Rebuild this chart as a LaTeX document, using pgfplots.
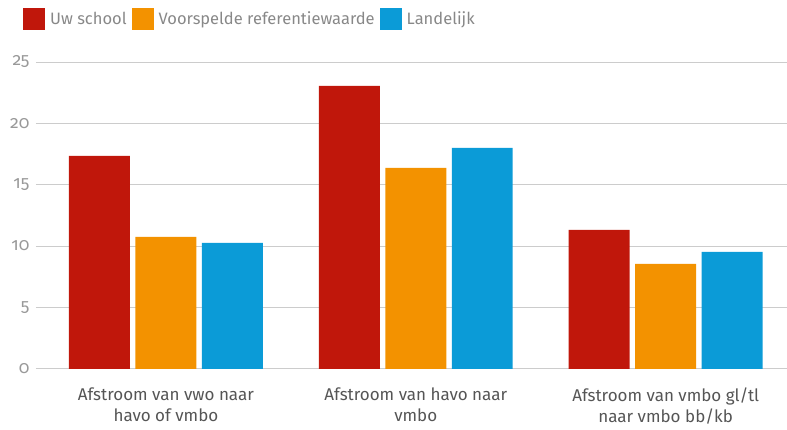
\documentclass[border=0pt]{standalone}
\usepackage{fontspec}
\setmainfont{Fira Sans}[Numbers=OldStyle]
\usepackage{pgfplots}
\pgfplotsset{compat=1.18}
\definecolor{cred}{HTML}{C0170B}
\definecolor{corange}{HTML}{F39200}
\definecolor{cblue}{HTML}{0B9BD7}
\definecolor{gridc}{HTML}{CCCCCC}
\definecolor{ticktxt}{HTML}{999999}
\definecolor{labtxt}{HTML}{555555}
\definecolor{legtxt}{HTML}{888888}
\begin{document}
\begin{tikzpicture}[x=1pt,y=1pt]
\begin{axis}[
  name=ax, at={(0,0)}, anchor=south west,
  scale only axis, width=751pt, height=307pt,
  xmin=-0.52, xmax=2.484, ymin=0, ymax=25,
  axis line style={draw=none},
  ytick={0,5,...,25},
  ymajorgrids, xmajorgrids=false, grid style={draw=gridc, line width=0.8pt},
  major tick length=0pt,
  yticklabel style={font=\fontsize{17.5}{17.5}\selectfont, text=ticktxt, xshift=-3pt},
  /pgf/number format/assume math mode=true,
  xtick={0,1,2},
  xticklabels={{Afstroom van vwo naar\\havo of vmbo},{Afstroom van havo naar\\vmbo},{Afstroom van vmbo gl/tl\\naar vmbo bb/kb}},
  xticklabel style={font=\fontsize{17}{21}\selectfont, text=labtxt, align=center, yshift=-15pt},
  ybar, bar width=61pt,
  legend columns=3,
  legend style={at={(axis description cs:0,1)}, anchor=north west, xshift=-16pt, yshift=56pt, draw=none, fill=none,
    font=\fontsize{16.5}{19}\selectfont, text=legtxt,
    /tikz/every odd column/.append style={column sep=3pt},
    /tikz/every even column/.append style={column sep=3pt}},
  legend image code/.code={\fill[#1] (0pt,-11pt) rectangle (22pt,11pt);},
  legend cell align=left,
]
\addplot[fill=cred, draw=none, bar shift=-66.5pt] coordinates {(0,17.35) (1,23.05) (2,11.32)};
\addplot[fill=corange, draw=none, bar shift=0pt] coordinates {(0,10.75) (1,16.37) (2,8.55)};
\addplot[fill=cblue, draw=none, bar shift=66.5pt] coordinates {(0,10.26) (1,18.0) (2,9.53)};
\legend{Uw school, Voorspelde referentiewaarde, Landelijk}
\end{axis}
\path[use as bounding box] (-36,-61) rectangle (751,369);
\end{tikzpicture}
\end{document}
